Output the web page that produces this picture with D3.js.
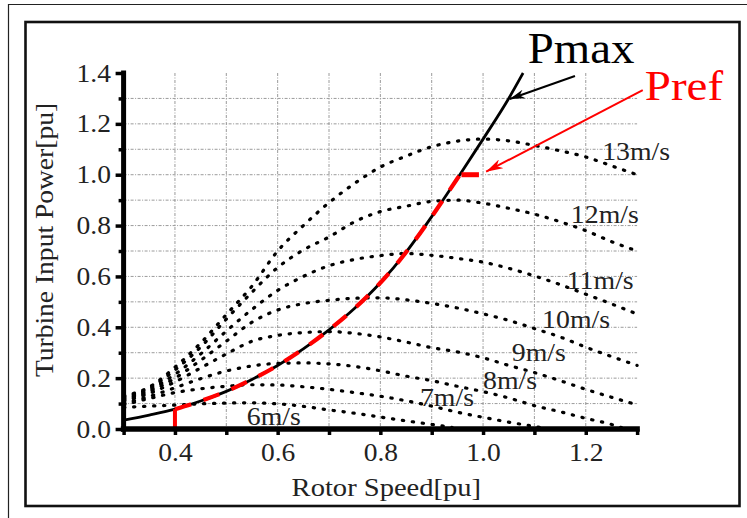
<!DOCTYPE html>
<html><head><meta charset="utf-8">
<script src="https://cdn.jsdelivr.net/npm/d3@7/dist/d3.min.js"></script>
<style>body{margin:0;background:#fff}svg{display:block}</style>
</head><body>
<svg id="c" width="747" height="518"></svg>
<script>
// ---------- data ----------
const rotorSpeed = [0.30,0.35,0.40,0.45,0.50,0.55,0.60,0.65,0.70,0.75,0.80,0.85,0.90,0.95,1.00,1.05,1.10,1.15,1.20,1.25,1.30];
const power13 = [0.130,0.165,0.243,0.338,0.450,0.562,0.700,0.800,0.890,0.966,1.030,1.073,1.110,1.132,1.140,1.133,1.115,1.094,1.070,1.035,1.000];
const power12 = [0.125,0.160,0.232,0.322,0.432,0.538,0.635,0.704,0.755,0.815,0.855,0.876,0.895,0.900,0.888,0.868,0.845,0.815,0.780,0.737,0.700];
const power11 = [0.120,0.153,0.215,0.295,0.385,0.470,0.545,0.600,0.642,0.667,0.682,0.690,0.683,0.671,0.656,0.632,0.602,0.568,0.530,0.492,0.452];
const power10 = [0.115,0.147,0.200,0.270,0.345,0.420,0.468,0.493,0.506,0.514,0.516,0.508,0.494,0.476,0.453,0.427,0.395,0.362,0.322,0.285,0.250];
const power9  = [0.110,0.140,0.185,0.240,0.295,0.345,0.368,0.379,0.383,0.376,0.362,0.342,0.320,0.303,0.280,0.250,0.222,0.190,0.156,0.125,0.095];
const speed8  = [0.30,0.35,0.40,0.45,0.50,0.55,0.60,0.65,0.70,0.75,0.80,0.85,0.90,0.95,1.00,1.05,1.10,1.15,1.20,1.25,1.27];
const power8  = [0.100,0.128,0.162,0.198,0.228,0.248,0.258,0.260,0.256,0.246,0.229,0.208,0.190,0.168,0.147,0.122,0.092,0.068,0.042,0.018,0.005];
const speed7  = [0.30,0.35,0.40,0.45,0.50,0.55,0.60,0.65,0.70,0.75,0.80,0.85,0.90,0.95,1.00,1.05,1.10,1.12];
const power7  = [0.095,0.120,0.143,0.158,0.168,0.174,0.173,0.166,0.156,0.143,0.129,0.111,0.090,0.066,0.046,0.027,0.010,0.003];
const speed6  = [0.30,0.35,0.40,0.45,0.50,0.55,0.60,0.65,0.70,0.75,0.80,0.85,0.90,0.94];
const power6  = [0.085,0.090,0.094,0.099,0.102,0.103,0.099,0.089,0.075,0.062,0.047,0.032,0.018,0.006];

const pmaxSpeed = [0.30,0.35,0.40,0.45,0.50,0.55,0.60,0.65,0.70,0.75,0.80,0.85,0.90,0.95,1.00,1.05,1.078];
const pmaxPower = [0.035,0.055,0.078,0.110,0.148,0.195,0.250,0.315,0.390,0.475,0.575,0.695,0.835,0.985,1.140,1.300,1.400];

const prefSpeed = [0.40,0.45,0.50,0.55,0.60,0.65,0.70,0.75,0.80,0.85,0.90,0.95,0.955];
const prefPower = [0.078,0.110,0.148,0.195,0.250,0.315,0.390,0.475,0.575,0.695,0.835,0.985,1.000];
const prefStartSpeed = [0.40,0.40];
const prefStartPower = [0.000,0.078];
const prefEndSpeed = [0.958,0.992];
const prefEndPower = [1.000,1.000];

const windLabels = ["6m/s","7m/s","8m/s","9m/s","10m/s","11m/s","12m/s","13m/s"];
const windLabelX = [0.540,0.877,1.000,1.056,1.115,1.163,1.171,1.232];
const windLabelY = [0.016,0.090,0.157,0.267,0.399,0.551,0.810,1.058];

const xTickLabels = [0.4,0.6,0.8,1.0,1.2];
const xTicksAll = [0.3,0.4,0.5,0.6,0.7,0.8,0.9,1.0,1.1,1.2,1.3];
const yTickLabels = [0.0,0.2,0.4,0.6,0.8,1.0,1.2,1.4];
const yTicksMinor = [0.1,0.3,0.5,0.7,0.9,1.1,1.3];
const xGrid = [0.4,0.5,0.6,0.7,0.8,0.9,1.0,1.1,1.2];
const yGrid = [0.1,0.2,0.3,0.4,0.5,0.6,0.7,0.8,0.9,1.0,1.1,1.2,1.3];

const pmaxText = {label:"Pmax", x:1.087, y:1.439, ax0:1.179, ay0:1.388, ax1:1.052, ay1:1.298};
const prefText = {label:"Pref", x:1.315, y:1.294, ax0:1.311, ay0:1.333, ax1:1.006, ay1:1.012};

// ---------- drawing ----------
const svg = d3.select("#c");
const x = d3.scaleLinear().domain([0.3,1.3]).range([123.6,637.1]);
const y = d3.scaleLinear().domain([0,1.4]).range([429,73]);
const serif = "'Liberation Serif','Times New Roman',serif";

svg.append("rect").attr("width",747).attr("height",518).attr("fill","#fff");
// page frame
svg.append("path").attr("d","M8.5,518 V4.5 H747").attr("fill","none").attr("stroke","#222").attr("stroke-width",1.2);
svg.append("rect").attr("x",25.5).attr("y",22).attr("width",714).attr("height",484)
  .attr("fill","none").attr("stroke","#111").attr("stroke-width",2.6);

// grid
const grid = svg.append("g").attr("stroke","#8f8f8f").attr("stroke-width",0.9).attr("stroke-dasharray","3,1.5,1,1.5");
grid.selectAll("line.v").data(xGrid).join("line").attr("class","v")
  .attr("x1",d=>x(d)).attr("x2",d=>x(d)).attr("y1",y(1.4)).attr("y2",y(0));
grid.selectAll("line.h").data(yGrid).join("line").attr("class","h")
  .attr("x1",x(0.3)).attr("x2",x(1.3)).attr("y1",d=>y(d)).attr("y2",d=>y(d));

const line = d3.line().x(d=>x(d[0])).y(d=>y(d[1])).curve(d3.curveMonotoneX);
const zipPts = (a,b)=>a.map((v,i)=>[v,b[i]]);

const curves = [
  zipPts(speed6,power6), zipPts(speed7,power7), zipPts(speed8,power8),
  zipPts(rotorSpeed,power9), zipPts(rotorSpeed,power10), zipPts(rotorSpeed,power11),
  zipPts(rotorSpeed,power12), zipPts(rotorSpeed,power13)
];
svg.append("g").selectAll("path").data(curves).join("path")
  .attr("d",line).attr("fill","none").attr("stroke","#000").attr("stroke-width",3.2)
  .attr("stroke-linecap","round").attr("stroke-dasharray","1.3,8.7");

// Pmax
svg.append("path").attr("d",line(zipPts(pmaxSpeed,pmaxPower)))
  .attr("fill","none").attr("stroke","#000").attr("stroke-width",2.8);

// Pref
const straight = d3.line().x(d=>x(d[0])).y(d=>y(d[1]));
svg.append("path").attr("d",straight(zipPts(prefStartSpeed,prefStartPower)))
  .attr("fill","none").attr("stroke","#ff0000").attr("stroke-width",4);
svg.append("path").attr("d",line(zipPts(prefSpeed,prefPower)))
  .attr("fill","none").attr("stroke","#ff0000").attr("stroke-width",4.2).attr("stroke-dasharray","17,13");
svg.append("path").attr("d",straight(zipPts(prefEndSpeed,prefEndPower)))
  .attr("fill","none").attr("stroke","#ff0000").attr("stroke-width",5);

// axes: ticks + labels
const yAx = svg.append("g").attr("transform",`translate(${x(0.3)},0)`)
  .call(d3.axisLeft(y).tickValues(yTickLabels).tickFormat(d3.format(".1f")).tickSize(8).tickPadding(4));
const yAxMinor = svg.append("g").attr("transform",`translate(${x(0.3)},0)`)
  .call(d3.axisLeft(y).tickValues(yTicksMinor).tickFormat("").tickSize(5));
const xAxMinor = svg.append("g").attr("transform",`translate(0,${y(0)})`)
  .call(d3.axisBottom(x).tickValues(xTicksAll).tickFormat("").tickSize(6));
const xAx = svg.append("g").attr("transform",`translate(0,${y(0)})`)
  .call(d3.axisBottom(x).tickValues(xTickLabels).tickFormat(d3.format(".1f")).tickSize(0).tickPadding(14));
[yAx,yAxMinor,xAxMinor,xAx].forEach(g=>{ g.select(".domain").remove();
  g.selectAll(".tick line").attr("stroke","#000").attr("stroke-width",3.5); });
yAx.selectAll("text").attr("font-family",serif).attr("font-size",25).attr("fill","#222")
  .attr("x",-11.5).attr("transform","scale(1.1,1)");
xAx.selectAll("text").attr("font-family",serif).attr("font-size",25).attr("fill","#222")
  .attr("transform","scale(1.1,1)");

// axis lines
svg.append("line").attr("x1",x(0.3)).attr("x2",x(0.3)).attr("y1",y(1.4)).attr("y2",y(0))
  .attr("stroke","#000").attr("stroke-width",5).attr("stroke-linecap","square");
svg.append("line").attr("x1",x(0.3)).attr("x2",x(1.3)).attr("y1",y(0)).attr("y2",y(0))
  .attr("stroke","#000").attr("stroke-width",5.5).attr("stroke-linecap","square");

// axis titles
svg.append("text").attr("transform",`translate(${x(0.8)+6},496) scale(1.12,1)`)
  .attr("text-anchor","middle").attr("font-family",serif).attr("font-size",25.5).attr("fill","#222")
  .text("Rotor Speed[pu]");
svg.append("text").attr("transform",`translate(53,240) rotate(-90) scale(1.08,1)`)
  .attr("text-anchor","middle").attr("font-family",serif).attr("font-size",25.5).attr("fill","#222")
  .text("Turbine Input Power[pu]");

// wind speed labels
svg.append("g").selectAll("text").data(windLabels).join("text")
  .attr("transform",(d,i)=>`translate(${x(windLabelX[i])},${y(windLabelY[i])}) scale(1.07,1)`)
  .attr("font-family",serif).attr("font-size",26).attr("fill","#222").text(d=>d);

// annotations
const defs = svg.append("defs");
function marker(id,color,w,h){
  defs.append("marker").attr("id",id).attr("viewBox",`0 0 ${w} ${h}`).attr("refX",w).attr("refY",h/2)
    .attr("markerWidth",w).attr("markerHeight",h).attr("markerUnits","userSpaceOnUse").attr("orient","auto")
    .append("path").attr("d",`M0,0 L${w},${h/2} L0,${h} L${w*0.3},${h/2} Z`).attr("fill",color);
}
marker("ab","#000",15,9);
marker("ar","#ff0000",17,10);
svg.append("line").attr("x1",x(pmaxText.ax0)).attr("y1",y(pmaxText.ay0)).attr("x2",x(pmaxText.ax1)).attr("y2",y(pmaxText.ay1))
  .attr("stroke","#000").attr("stroke-width",2).attr("marker-end","url(#ab)");
svg.append("line").attr("x1",x(prefText.ax0)).attr("y1",y(prefText.ay0)).attr("x2",x(prefText.ax1)).attr("y2",y(prefText.ay1))
  .attr("stroke","#ff0000").attr("stroke-width",2).attr("marker-end","url(#ar)");
svg.append("text").attr("transform",`translate(${x(pmaxText.x)},${y(pmaxText.y)}) scale(1.04,1)`)
  .attr("font-family",serif).attr("font-size",45).attr("fill","#000").text(pmaxText.label);
svg.append("text").attr("transform",`translate(${x(prefText.x)},${y(prefText.y)}) scale(1.12,1)`)
  .attr("font-family",serif).attr("font-size",42).attr("fill","#ff0000").text(prefText.label);
</script>
</body></html>
